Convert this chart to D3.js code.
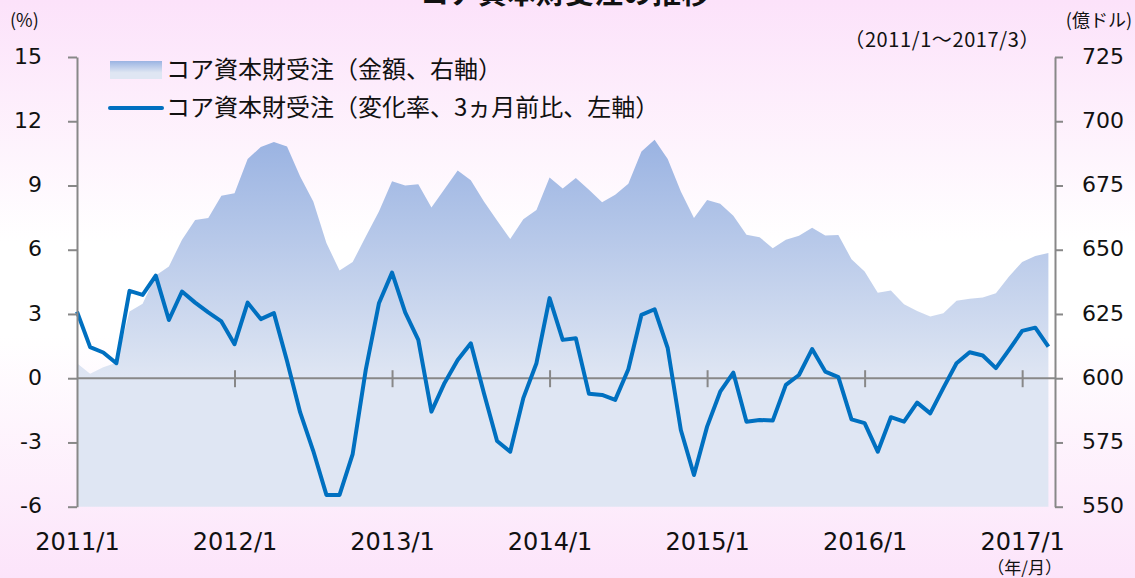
<!DOCTYPE html>
<meta charset="utf-8">
<style>
body { margin: 0; }
text { font-family: "DejaVu Sans", sans-serif; fill: #111; }
.jp { font-family: "Noto Sans CJK JP", sans-serif; }
</style>
<svg id="chart" width="1135" height="578"></svg>
<script src="https://cdn.jsdelivr.net/npm/d3@7"></script>
<script>
// data (monthly, 2011/1 .. 2017/3)
var yearLabels = ["2011/1", "2012/1", "2013/1", "2014/1", "2015/1", "2016/1", "2017/1"];

// change rate, 3-month, left axis (%)
var rateValues = [3.11, 1.45, 1.2, 0.70, 4.08, 3.89, 4.79, 2.72, 4.05, 3.53, 3.07, 2.65,
  1.59, 3.53, 2.76, 3.04, 0.8, -1.6, -3.4, -5.45, -5.45, -3.54, 0.4, 3.5,
  4.93, 3.07, 1.79, -1.56, -0.22, 0.85, 1.63, -0.7, -2.93, -3.43, -0.93, 0.70,
  3.74, 1.79, 1.87, -0.73, -0.78, -1.01, 0.42, 2.96, 3.22, 1.40, -2.42, -4.52,
  -2.26, -0.63, 0.26, -2.03, -1.95, -1.98, -0.31, 0.15, 1.36, 0.31, 0.05, -1.92,
  -2.10, -3.43, -1.82, -2.03, -1.14, -1.64, -0.45, 0.70, 1.21, 1.06, 0.47, 1.32,
  2.21, 2.36, 1.48];

// amount, right axis (100 million dollars)
var amountValues = [605.8, 601.7, 604.3, 606, 626, 629, 640, 643.5, 653.9, 661.6, 662.3, 671,
  672, 685.3, 690, 691.9, 690.2, 678.5, 668.8, 652.6, 641.9, 645.2, 655.1, 664.9,
  676.6, 675, 675.5, 666.4, 673.6, 680.8, 677, 668.8, 661.4, 654.2, 661.9, 665.5,
  678.1, 673.8, 677.9, 673.3, 668.5, 671.4, 675.7, 688.2, 692.8, 685.3, 672.7, 662.3,
  669.4, 667.9, 663.2, 655.8, 654.9, 650.6, 653.9, 655.4, 658.6, 655.5, 655.7, 646.3,
  641.5, 633.3, 634.1, 628.8, 626.2, 624, 625.3, 630.1, 630.9, 631.4, 633.1, 639.6,
  645.2, 647.6, 648.7];

var leftTicks = [-6, -3, 0, 3, 6, 9, 12, 15];
var rightTicks = [550, 575, 600, 625, 650, 675, 700, 725];

var svg = d3.select("#chart");
var defs = svg.append("defs");

// page background: pink -> white -> pink
var bg = defs.append("linearGradient").attr("id", "bg")
    .attr("x1", 0).attr("y1", 0).attr("x2", 0).attr("y2", 1);
bg.append("stop").attr("offset", 0).attr("stop-color", "#fce2fa");
bg.append("stop").attr("offset", 0.42).attr("stop-color", "#ffffff");
bg.append("stop").attr("offset", 0.58).attr("stop-color", "#ffffff");
bg.append("stop").attr("offset", 1).attr("stop-color", "#fce4fa");

var areaGrad = defs.append("linearGradient").attr("id", "areaGrad")
    .attr("x1", 0).attr("y1", 0).attr("x2", 0).attr("y2", 1);
areaGrad.append("stop").attr("offset", 0).attr("stop-color", "#9ab3e2");
areaGrad.append("stop").attr("offset", 0.65).attr("stop-color", "#dfe6f3");
areaGrad.append("stop").attr("offset", 1).attr("stop-color", "#dfe6f3");

svg.append("rect").attr("width", 1135).attr("height", 578).attr("fill", "url(#bg)");

var plot = {left: 77, right: 1055, top: 57, bottom: 506.7};

var x = d3.scaleLinear().domain([0, 74]).range([plot.left, 1048.4]);
var yL = d3.scaleLinear().domain([-6, 15]).range([plot.bottom, plot.top]);
var yR = d3.scaleLinear().domain([550, 725]).range([plot.bottom, plot.top]);

// area (right axis)
var area = d3.area()
    .x(function (d, i) { return x(i); })
    .y0(yR(550))
    .y1(function (d) { return yR(d); });

svg.append("path").datum(amountValues)
    .attr("d", area).attr("fill", "url(#areaGrad)");

// zero line with year ticks
var y0 = yL(0);
svg.append("line")
    .attr("x1", plot.left).attr("x2", plot.right)
    .attr("y1", y0).attr("y2", y0)
    .attr("stroke", "#888").attr("stroke-width", 2);

svg.append("g")
    .attr("transform", "translate(0," + (y0 - 8) + ")")
    .call(d3.axisBottom(x).tickValues([12, 24, 36, 48, 60, 72]).tickFormat("")
          .tickSizeInner(17).tickSizeOuter(0))
    .call(function (g) { g.select(".domain").remove(); })
    .selectAll("line").attr("stroke", "#888").attr("stroke-width", 2);

// rate line (left axis)
var line = d3.line()
    .x(function (d, i) { return x(i); })
    .y(function (d) { return yL(d); });

svg.append("path").datum(rateValues)
    .attr("d", line).attr("fill", "none")
    .attr("stroke", "#0070c0").attr("stroke-width", 4)
    .attr("stroke-linejoin", "round");

// left axis (plain hyphen for negatives, like the original)
var gl = svg.append("g")
    .attr("transform", "translate(" + plot.left + ",0)")
    .call(d3.axisLeft(yL).tickValues(leftTicks).tickFormat(function (d) { return String(d); })
          .tickSizeInner(9).tickSizeOuter(0).tickPadding(26));
// right axis
var gr = svg.append("g")
    .attr("transform", "translate(" + plot.right + ",0)")
    .call(d3.axisRight(yR).tickValues(rightTicks).tickFormat(function (d) { return String(d); })
          .tickSizeInner(8).tickSizeOuter(0).tickPadding(19));

[gl, gr].forEach(function (g) {
    g.select(".domain").attr("stroke", "#888").attr("stroke-width", 2);
    g.selectAll(".tick line").attr("stroke", "#888").attr("stroke-width", 2);
    g.selectAll(".tick text").attr("font-size", 22).attr("fill", "#111")
        .attr("font-family", "DejaVu Sans").attr("dy", "0.28em");
});

// x labels
svg.append("g")
    .attr("transform", "translate(0," + plot.bottom + ")")
    .call(d3.axisBottom(x).tickValues([0, 12, 24, 36, 48, 60, 72])
          .tickFormat(function (d) { return yearLabels[d / 12]; })
          .tickSize(0).tickPadding(26))
    .call(function (g) { g.select(".domain").remove(); })
    .selectAll("text").attr("font-size", 24).attr("fill", "#111")
    .attr("font-family", "DejaVu Sans");

// title (cut off at top) and notes
svg.append("text").attr("class", "jp")
    .attr("x", 565).attr("y", 4).attr("text-anchor", "middle")
    .attr("font-size", 29).attr("font-weight", "bold")
    .text("コア資本財受注の推移");

svg.append("text").attr("class", "jp").attr("x", 10).attr("y", 27)
    .attr("font-size", 18).text("(%)");
svg.append("text").attr("class", "jp").attr("x", 1132).attr("y", 27)
    .attr("text-anchor", "end").attr("font-size", 18).text("(億ドル)");
svg.append("text").attr("class", "jp").attr("x", 1040).attr("y", 47)
    .attr("text-anchor", "end").attr("font-size", 20).attr("letter-spacing", 0.6)
    .text("（2011/1～2017/3）");
svg.append("text").attr("class", "jp").attr("x", 1062).attr("y", 574)
    .attr("text-anchor", "end").attr("font-size", 17).text("（年/月）");

// legend
svg.append("rect").attr("x", 110).attr("y", 61).attr("width", 52).attr("height", 18)
    .attr("fill", "url(#areaGrad)");
svg.append("line").attr("x1", 110).attr("x2", 162).attr("y1", 108).attr("y2", 108)
    .attr("stroke", "#0070c0").attr("stroke-width", 4).attr("stroke-linecap", "round");

svg.append("text").attr("class", "jp").attr("x", 166).attr("y", 78)
    .attr("font-size", 24).text("コア資本財受注（金額、右軸）");
svg.append("text").attr("class", "jp").attr("x", 166).attr("y", 116)
    .attr("font-size", 24).text("コア資本財受注（変化率、3ヵ月前比、左軸）");
</script>
